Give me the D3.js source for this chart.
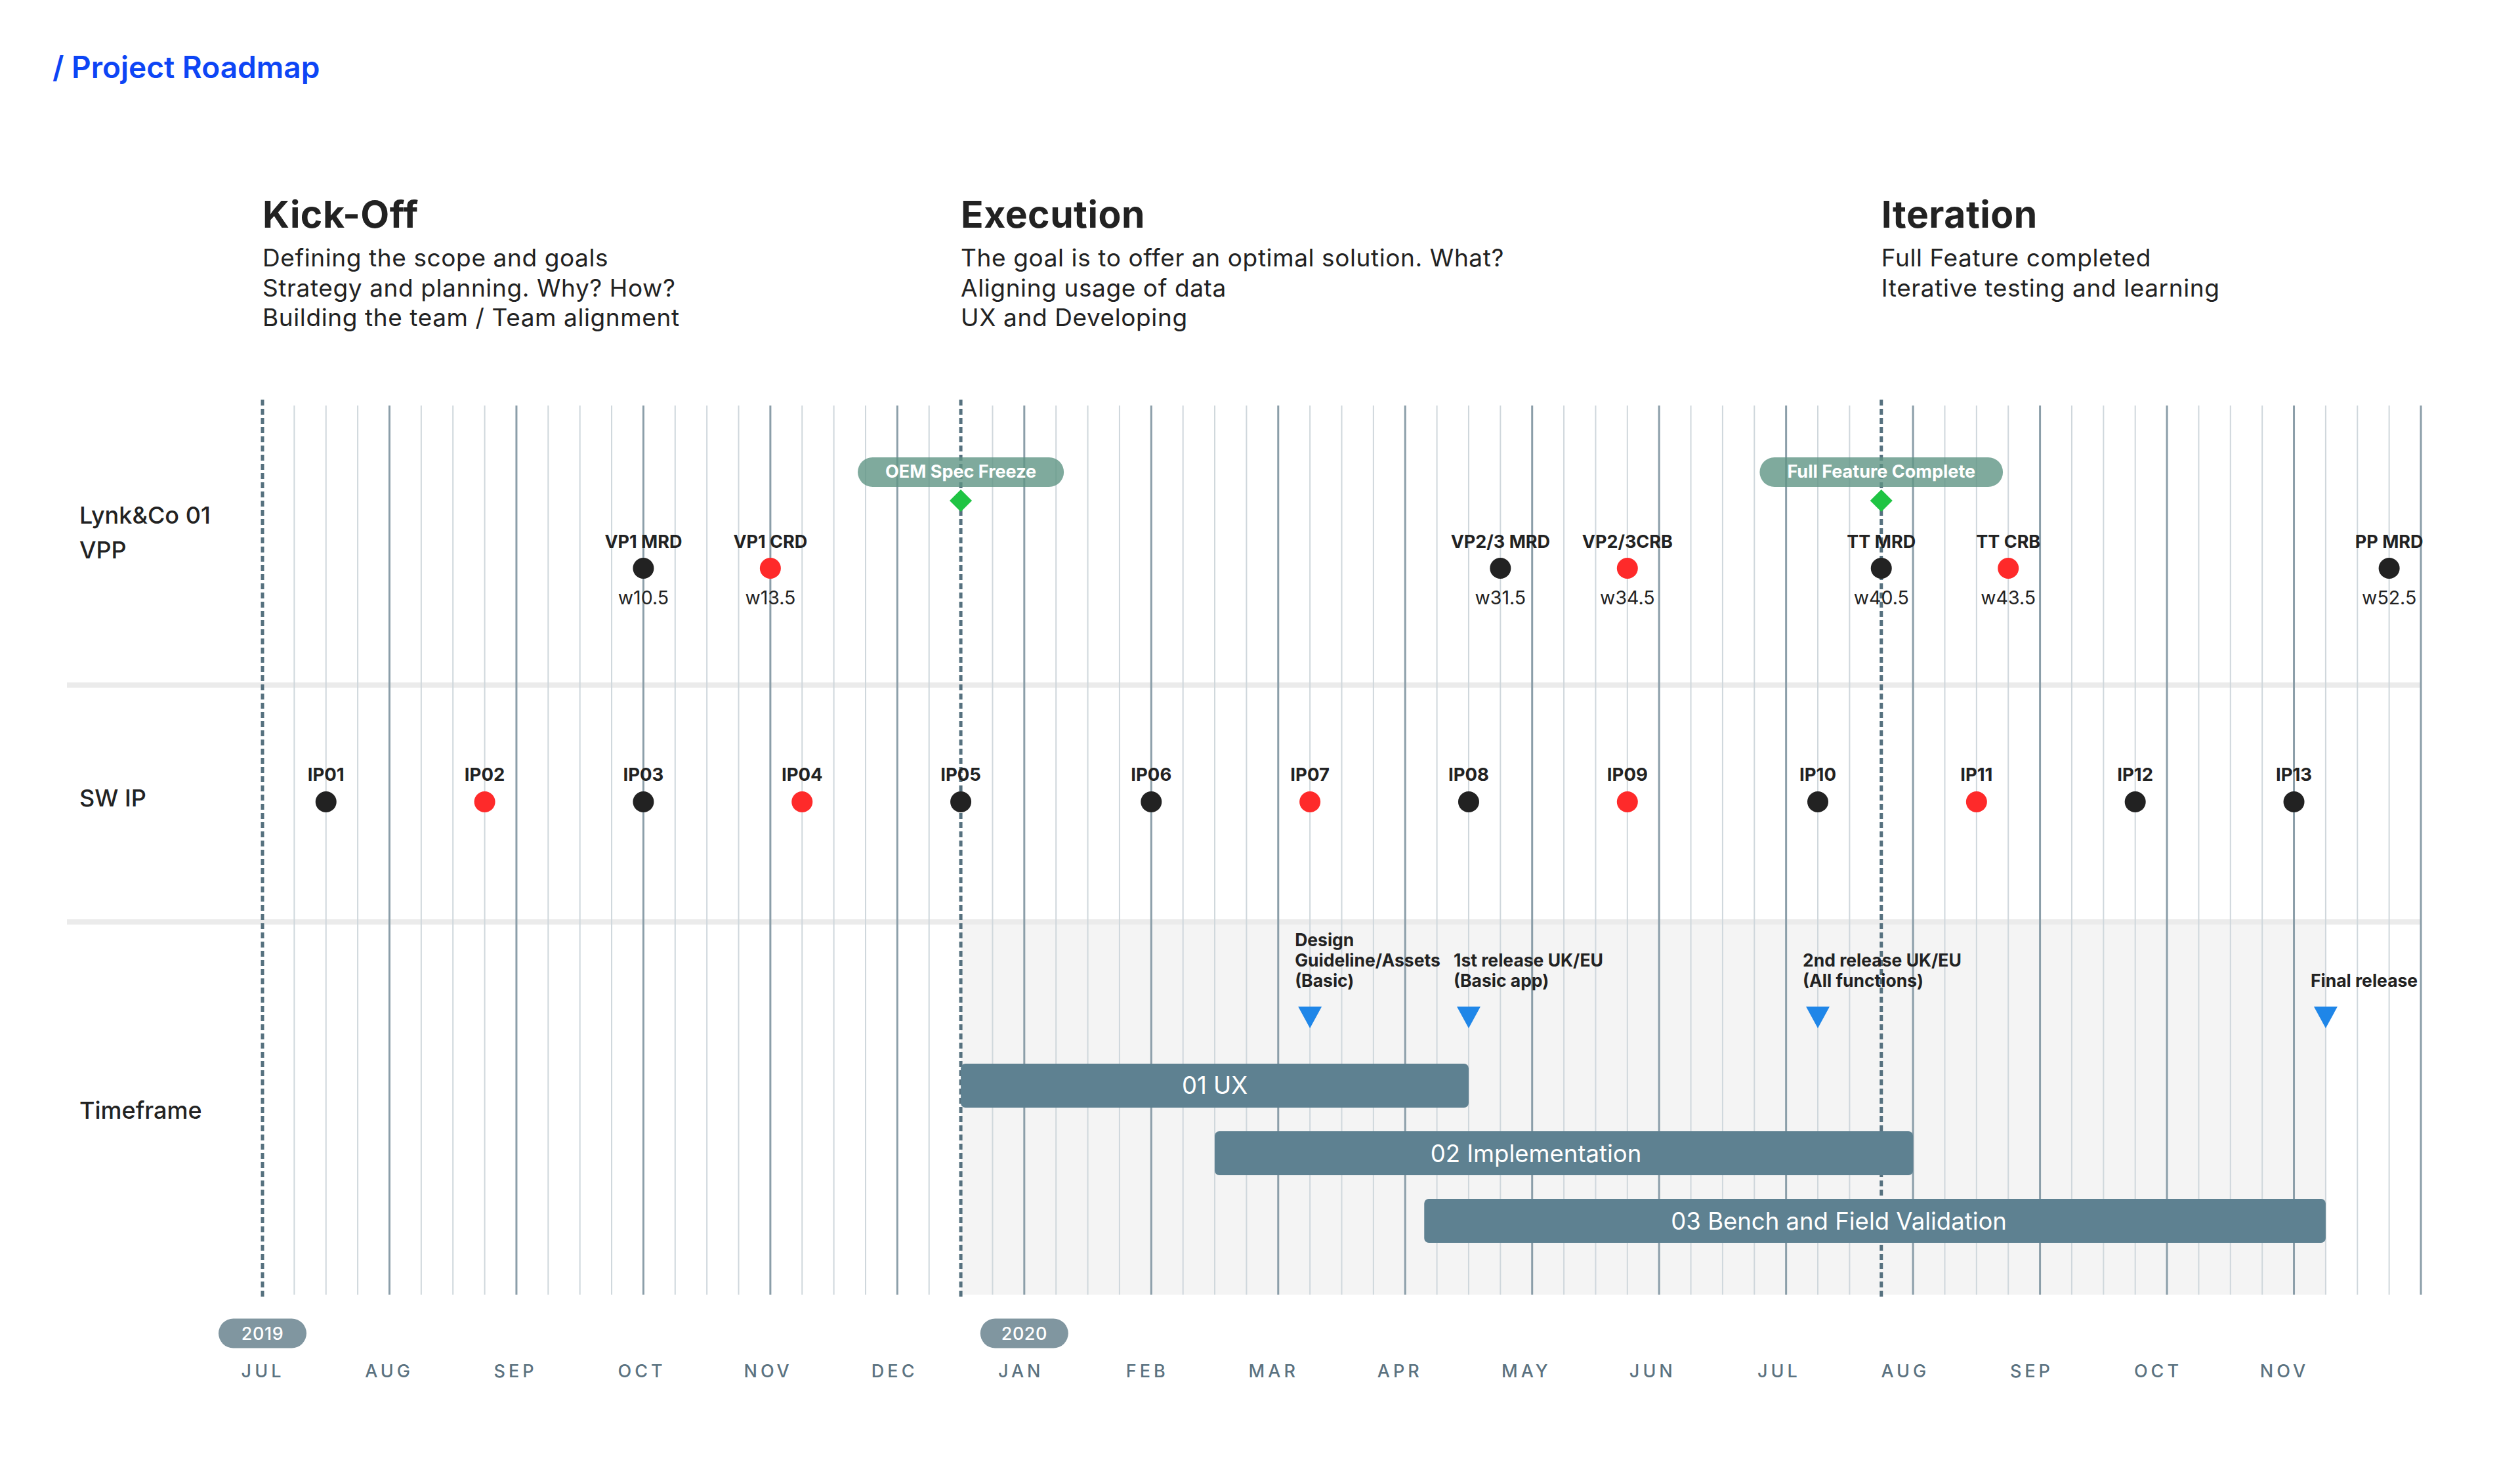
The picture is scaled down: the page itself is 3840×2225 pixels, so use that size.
<!DOCTYPE html>
<html>
<head>
<meta charset="utf-8">
<script src="https://cdn.jsdelivr.net/npm/d3@7"></script>
<style>
  body { margin: 0; background: #fff; }
  svg { display: block; font-family: Inter, "Noto Sans", sans-serif; }
</style>
</head>
<body>
<svg id="chart"></svg>
<script>
// ---- data ----
const months = ["JUL", "AUG", "SEP", "OCT", "NOV", "DEC", "JAN", "FEB", "MAR", "APR", "MAY", "JUN", "JUL", "AUG", "SEP", "OCT", "NOV"];
const years = [
    { label: "2019", at: 0 },
    { label: "2020", at: 6 }
];
const phases = [
    { title: "Kick-Off", at: 0, lines: ["Defining the scope and goals", "Strategy and planning. Why? How?", "Building the team / Team alignment"] },
    { title: "Execution", at: 5.5, lines: ["The goal is to offer an optimal solution. What?", "Aligning usage of data", "UX and Developing"] },
    { title: "Iteration", at: 12.75, lines: ["Full Feature completed", "Iterative testing and learning"] }
];
const rowLabels = [["Lynk&Co 01", "VPP"], ["SW IP"], ["Timeframe"]];
const gates = [
    { label: "OEM Spec Freeze", at: 5.5 },
    { label: "Full Feature Complete", at: 12.75 }
];
const vpp = [
    { name: "VP1 MRD", week: "w10.5", at: 3, red: false },
    { name: "VP1 CRD", week: "w13.5", at: 4, red: true },
    { name: "VP2/3 MRD", week: "w31.5", at: 9.75, red: false },
    { name: "VP2/3CRB", week: "w34.5", at: 10.75, red: true },
    { name: "TT MRD", week: "w40.5", at: 12.75, red: false },
    { name: "TT CRB", week: "w43.5", at: 13.75, red: true },
    { name: "PP MRD", week: "w52.5", at: 16.75, red: false }
];
const ipNames = ["IP01", "IP02", "IP03", "IP04", "IP05", "IP06", "IP07", "IP08", "IP09", "IP10", "IP11", "IP12", "IP13"];
const ipAt = [0.5, 1.75, 3, 4.25, 5.5, 7, 8.25, 9.5, 10.75, 12.25, 13.5, 14.75, 16];
const ipRed = [false, true, false, true, false, false, true, false, true, false, true, false, false];
const releases = [
    { lines: ["Design", "Guideline/Assets", "(Basic)"], at: 8.25 },
    { lines: ["1st release UK/EU", "(Basic app)"], at: 9.5 },
    { lines: ["2nd release UK/EU", "(All functions)"], at: 12.25 },
    { lines: ["Final release"], at: 16.25 }
];
const bars = [
    { name: "01 UX", start: 5.5, end: 9.5 },
    { name: "02 Implementation", start: 7.5, end: 13 },
    { name: "03 Bench and Field Validation", start: 9.15, end: 16.25 }
];
const timeframeSpan = [5.5, 16.25];

// ---- layout ----
const width = 3840, height = 2225;
const gridTop = 618, gridBottom = 1973;
const dark = "#222222", red = "#fe2a2a";
const barLabelFrac = [0.5, 0.46, 0.46];   // labels of long bars sit a bit left of centre

const svg = d3.select("#chart").attr("width", width).attr("height", height);

const x = d3.scaleLinear().domain([0, months.length]).range([400, 3689]);
// month labels drift slightly left of the month lines in the original
const xAxisScale = x.copy().range([400, 3673]);
const yBar = d3.scaleBand()
    .domain(bars.map(d => d.name))
    .range([1621, 1894])
    .paddingInner(0.35)
    .paddingOuter(0);

// title
svg.append("text")
    .attr("x", 80).attr("y", 119)
    .attr("fill", "#0d45f5")
    .attr("font-size", 46).attr("font-weight", 600)
    .text("/ Project Roadmap");

// phase headings
const ph = svg.append("g").selectAll("g").data(phases).enter().append("g")
    .attr("transform", d => `translate(${x(d.at)},0)`);
ph.append("text")
    .attr("y", 347).attr("fill", dark)
    .attr("font-size", 57).attr("font-weight", 700)
    .attr("letter-spacing", 0.5)
    .text(d => d.title);
ph.selectAll(".line").data(d => d.lines).enter().append("text")
    .attr("class", "line")
    .attr("y", (d, i) => 406 + i * 45.5)
    .attr("fill", dark).attr("font-size", 37)
    .attr("letter-spacing", 0.6)
    .text(d => d);

// row labels
const rowY = [[798, 851], [1229], [1705]];
rowLabels.forEach((lines, r) => {
    lines.forEach((t, i) => {
        svg.append("text")
            .attr("x", 121).attr("y", rowY[r][i])
            .attr("fill", dark).attr("font-size", 36).attr("font-weight", 500)
            .text(t);
    });
});

// separators
svg.append("g").selectAll("rect").data([1040, 1401]).enter().append("rect")
    .attr("x", 102).attr("y", d => d)
    .attr("width", x(months.length) - 102).attr("height", 8)
    .attr("fill", "#ebebeb");

// timeframe shading
svg.append("rect")
    .attr("x", x(timeframeSpan[0])).attr("y", 1409)
    .attr("width", x(timeframeSpan[1]) - x(timeframeSpan[0]))
    .attr("height", gridBottom - 1409)
    .attr("fill", "#f4f4f4");

// week grid (quarter months), month starts darker
const dashedAt = [0].concat(gates.map(g => g.at));
const quarters = d3.range(0, months.length * 4 + 1).map(q => q / 4)
    .filter(v => !dashedAt.includes(v));
svg.append("g").selectAll("line").data(quarters).enter().append("line")
    .attr("x1", d => x(d)).attr("x2", d => x(d))
    .attr("y1", gridTop).attr("y2", gridBottom)
    .attr("stroke", d => Number.isInteger(d) ? "#8b9ea9" : "#cfd7dc")
    .attr("stroke-width", d => Number.isInteger(d) ? 3 : 2);

svg.append("g").selectAll("line").data(dashedAt).enter().append("line")
    .attr("x1", d => x(d)).attr("x2", d => x(d))
    .attr("y1", 609).attr("y2", 1976)
    .attr("stroke", "#56717f").attr("stroke-width", 5)
    .attr("stroke-dasharray", "9,5");

// gate pills + diamonds
const gg = svg.append("g").selectAll("g").data(gates).enter().append("g")
    .attr("transform", d => `translate(${x(d.at)},0)`);
gg.append("rect").attr("class", "pill")
    .attr("y", 697).attr("height", 45).attr("rx", 22.5)
    .attr("fill", "#5f9584").attr("fill-opacity", 0.8);
gg.append("text")
    .attr("y", 728).attr("text-anchor", "middle")
    .attr("fill", "#fff").attr("font-size", 27).attr("font-weight", 700)
    .text(d => d.label)
    .each(function() {
        const w = this.getComputedTextLength() + 84;
        d3.select(this.parentNode).select(".pill").attr("x", -w / 2).attr("width", w);
    });
gg.append("path")
    .attr("d", "M0,-17L17,0L0,17L-17,0Z")
    .attr("transform", "translate(0,763)")
    .attr("fill", "#1fc443");

// VPP milestones
const vg = svg.append("g").selectAll("g").data(vpp).enter().append("g")
    .attr("transform", d => `translate(${x(d.at)},0)`);
vg.append("text")
    .attr("y", 835).attr("text-anchor", "middle")
    .attr("fill", dark).attr("font-size", 27).attr("font-weight", 700)
    .text(d => d.name);
vg.append("circle").attr("cy", 866).attr("r", 16)
    .attr("fill", d => d.red ? red : dark);
vg.append("text")
    .attr("y", 921).attr("text-anchor", "middle")
    .attr("fill", dark).attr("font-size", 28.5)
    .text(d => d.week);

// SW IP
const ig = svg.append("g").selectAll("g").data(ipNames).enter().append("g")
    .attr("transform", (d, i) => `translate(${x(ipAt[i])},0)`);
ig.append("text")
    .attr("y", 1190).attr("text-anchor", "middle")
    .attr("fill", dark).attr("font-size", 27.5).attr("font-weight", 700)
    .text(d => d);
ig.append("circle").attr("cy", 1222).attr("r", 16)
    .attr("fill", (d, i) => ipRed[i] ? red : dark);

// release markers
const rg = svg.append("g").selectAll("g").data(releases).enter().append("g")
    .attr("transform", d => `translate(${x(d.at)},0)`);
rg.append("path")
    .attr("d", "M-18,1534L18,1534L0,1567Z")
    .attr("fill", "#1f86e8");
rg.selectAll("text").data(d => d.lines).enter().append("text")
    .attr("x", -23)
    .attr("y", (d, i, n) => 1504 - (n.length - 1 - i) * 31)
    .attr("fill", dark).attr("font-size", 26.5).attr("font-weight", 700)
    .text(d => d);

// timeframe bars
const bg = svg.append("g").selectAll("g").data(bars).enter().append("g");
bg.append("rect")
    .attr("x", d => x(d.start)).attr("y", d => yBar(d.name))
    .attr("width", d => x(d.end) - x(d.start))
    .attr("height", yBar.bandwidth())
    .attr("rx", 7)
    .attr("fill", "#5e8191");
bg.append("text")
    .attr("x", (d, i) => x(d.start) + barLabelFrac[i] * (x(d.end) - x(d.start)))
    .attr("y", d => yBar(d.name) + yBar.bandwidth() / 2 + 13)
    .attr("text-anchor", "middle")
    .attr("fill", "#fff").attr("font-size", 36.5)
    .text(d => d.name);

// year pills
const yg = svg.append("g").selectAll("g").data(years).enter().append("g")
    .attr("transform", d => `translate(${x(d.at)},2032)`);
yg.append("rect")
    .attr("x", -67).attr("y", -22.5).attr("width", 134).attr("height", 45).attr("rx", 22.5)
    .attr("fill", "#8096a0");
yg.append("text")
    .attr("y", 9.5).attr("text-anchor", "middle")
    .attr("fill", "#fff").attr("font-size", 27).attr("font-weight", 500)
    .attr("letter-spacing", 0.5)
    .text(d => d.label);

// month axis
const axis = svg.append("g")
    .attr("transform", "translate(0,2080)")
    .call(d3.axisBottom(xAxisScale)
        .tickValues(d3.range(months.length))
        .tickFormat(i => months[i])
        .tickSize(0)
        .tickPadding(0));
axis.select(".domain").remove();
axis.selectAll("text")
    .attr("font-family", "Inter, 'Noto Sans', sans-serif")
    .attr("font-size", 27)
    .attr("font-weight", 500)
    .attr("letter-spacing", 5)
    .attr("fill", "#5b7280");
</script>
</body>
</html>
